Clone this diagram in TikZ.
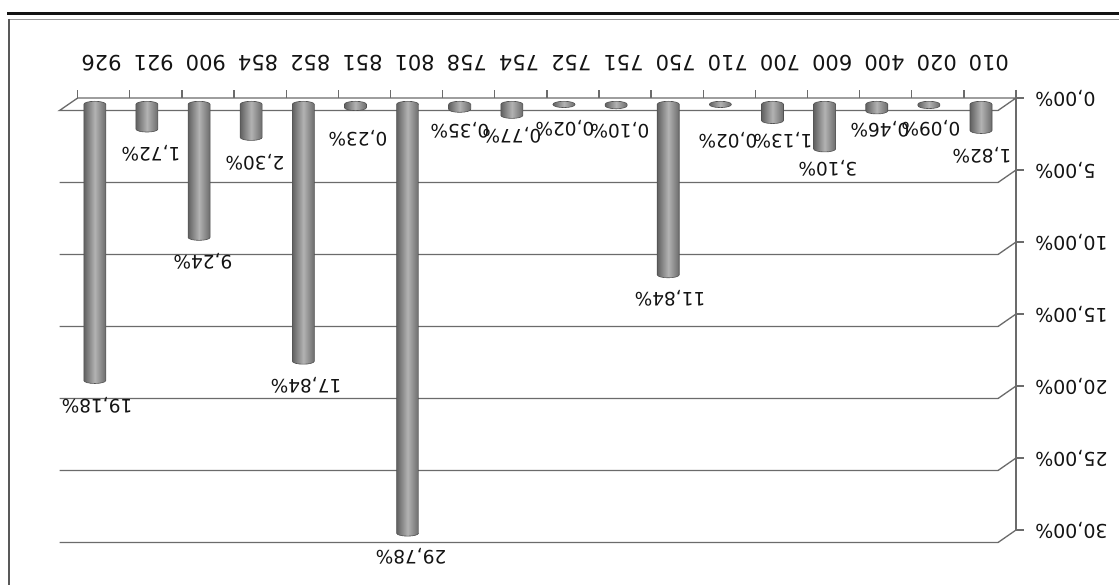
\documentclass[tikz,border=0pt]{standalone}
\usepackage{fontspec}
\setmainfont{DejaVu Sans}
\begin{document}
\begin{tikzpicture}[x=1pt,y=-1pt,
  grid/.style={draw=black!58, line width=1.3pt},
  catlabel/.style={font=\fontsize{21}{21}\selectfont, text=black!92, rotate=180, inner sep=0pt},
  vallabel/.style={font=\fontsize{18.5}{18.5}\selectfont, text=black!92, rotate=180, inner sep=0pt},
  axlabel/.style={font=\fontsize{19}{19}\selectfont, text=black!92, rotate=180, inner sep=0pt, anchor=east},
  barbody/.style={left color=black!62, right color=black!58, middle color=black!30, draw=black!68, line width=0.6pt}]
\useasboundingbox (0,0) rectangle (1119,585);
\fill[white] (0,0) rectangle (1119,585);
% frame
\draw[line width=3pt, draw=black!92] (7,13.5) -- (1119,13.5);
\draw[line width=0.8pt, draw=black!40] (9,19) -- (1119,19);
\draw[line width=1.3pt, draw=black!65] (9,19) -- (9,585);
% floor
\draw[grid] (59.5,110.5) -- (998,110.5) -- (1016,98) -- (77.7,98) -- cycle;
\foreach \k in {0,...,17} \draw[grid] ({77.7+52.13*\k},98) -- ({77.7+52.13*\k},90);
% gridlines
\foreach \v in {5,10,...,30} \draw[grid] (59.5,{110.5+14.4*\v}) -- (998,{110.5+14.4*\v}) -- (1016,{98+14.4*\v});
% value axis
\draw[grid] (1016,90) -- (1016,{98+14.4*30});
\foreach \v in {0,5,...,30} {
  \draw[grid] (1016,{98+14.4*\v}) -- (1024,{98+14.4*\v});
  \node[axlabel] (ax\v) at (1035,{98+14.4*\v}) {\v,00\%};
}
% categories
\foreach \c [count=\i from 0] in {926,921,900,854,852,851,801,758,754,752,751,750,710,700,600,400,020,010}
  \node[catlabel] (cat\i) at ({101.5+52.2*\i},63) {\c};
% bars and labels
\foreach \i/\v/\t/\lx/\ly in {
  0/19.18/{19,18}/97/405,
  1/1.72/{1,72}/151/153.5,
  2/9.24/{9,24}/203/261,
  3/2.30/{2,30}/255/162,
  4/17.84/{17,84}/306/385,
  5/0.23/{0,23}/358/138,
  6/29.78/{29,78}/411/556,
  7/0.35/{0,35}/460/130,
  8/0.77/{0,77}/512/135,
  9/0.02/{0,02}/565/128,
  10/0.10/{0,10}/620/130,
  11/11.84/{11,84}/670/298,
  12/0.02/{0,02}/728/140,
  13/1.13/{1,13}/783/140,
  14/3.10/{3,10}/828/168,
  15/0.46/{0,46}/880/129,
  16/0.09/{0,09}/931/128,
  17/1.82/{1,82}/982/155} {
  \pgfmathsetmacro\xc{94.8+52.13*\i}
  \pgfmathsetmacro\yb{104.3+14.4*\v}
  \path[barbody] ({\xc-11},104.3) arc[start angle=180,end angle=0,x radius=11pt,y radius=3pt]
     -- ({\xc+11},\yb) arc[start angle=0,end angle=-180,x radius=11pt,y radius=3pt] -- cycle;
  \node[vallabel] (lab\i) at (\lx,\ly) {\t\%};
}
\end{tikzpicture}
\end{document}
